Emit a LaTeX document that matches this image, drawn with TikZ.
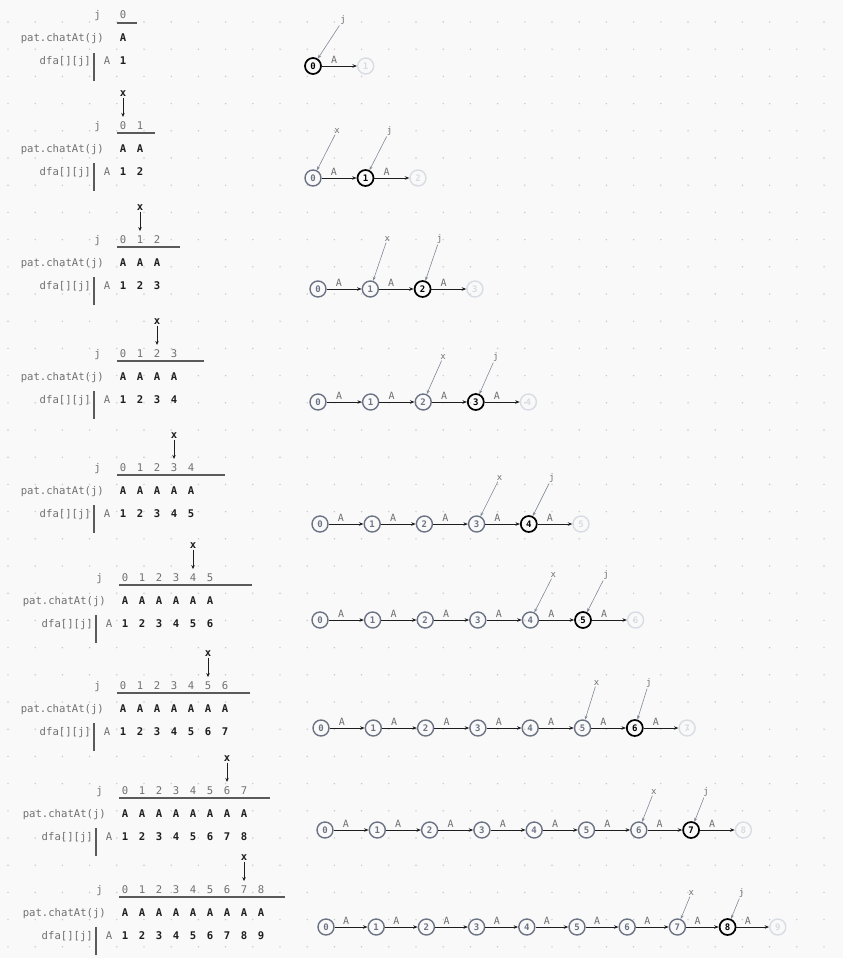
\documentclass[tikz,border=0pt]{standalone}
\usepackage{fontspec}
\setmonofont{DejaVu Sans Mono}
\usetikzlibrary{arrows.meta}

\definecolor{paper}{HTML}{F9F9F9}
\definecolor{griddot}{HTML}{C8C8C8}
\definecolor{labelgray}{HTML}{707070}
\definecolor{rulegray}{HTML}{5A5A5A}
\definecolor{stategray}{HTML}{6B7385}
\definecolor{statefade}{HTML}{D8DCE4}
\definecolor{ink}{HTML}{1E1E1E}

\tikzset{
  lbl/.style={font=\fontsize{10.6}{12}\ttfamily,text=labelgray,inner sep=0pt},
  val/.style={font=\fontsize{10.6}{12}\ttfamily\bfseries,text=ink,inner sep=0pt},
  state/.style={circle,draw=stategray,text=stategray,line width=1.4pt,minimum size=16pt,inner sep=0pt,font=\fontsize{9}{10}\ttfamily\bfseries},
  cur/.style={state,draw=black,text=black,line width=1.7pt},
  fade/.style={state,draw=statefade,text=statefade},
  edge/.style={-{Stealth[length=4.5pt,width=3.5pt]},line width=0.8pt,draw=ink},
  elbl/.style={font=\fontsize{10}{11}\ttfamily,text=labelgray,inner sep=1pt},
  ptr/.style={-{Stealth[length=4pt,width=3pt]},line width=0.6pt,draw=stategray!85},
  plbl/.style={font=\fontsize{9}{10}\ttfamily,text=labelgray,inner sep=1pt},
}

\begin{document}
\begin{tikzpicture}[x=1pt,y=-1pt]
  \useasboundingbox (0,0) rectangle (843,958);
  \fill[paper] (0,0) rectangle (843,958);
  \foreach \i in {0,...,30}
    \foreach \k in {0,...,34}
      \fill[griddot] (8+27.2*\i,22+27.2*\k) circle[radius=0.8pt];

  % tables
  \foreach[evaluate={\xr=int(\r-1)}] \r/\sx/\ty/\ue in {0/0/15/137,1/0/125/155,2/0/239/180,3/0/353/204,4/0/467/225,5/2/577/252,6/0/685/250,7/2/790/270,8/2/889/285} {
    \node[lbl,anchor=base east] (j\r) at (101+\sx,\ty+4) {j};
    \node[lbl,anchor=base east] (p\r) at (104+\sx,\ty+27) {pat.chatAt(j)};
    \node[lbl,anchor=base east] (d\r) at (91+\sx,\ty+50) {dfa[][j]};
    \node[lbl,anchor=base] (a\r) at (107+\sx,\ty+50) {A};
    \draw[rulegray,line width=1.2pt] (94+\sx,\ty+38) -- (94+\sx,\ty+66);
    \draw[rulegray,line width=1.2pt] (117+\sx,\ty+8) -- (\ue,\ty+8);
    \foreach[evaluate={\cx=123+\sx+17*\i; \v=int(\i+1)}] \i in {0,...,\r} {
      \node[lbl,anchor=base] (c\r-\i) at (\cx,\ty+4) {\i};
      \node[val,anchor=base] (pa\r-\i) at (\cx,\ty+27) {A};
      \node[val,anchor=base] (df\r-\i) at (\cx,\ty+50) {\v};
    }
    \ifnum\r>0
      \node[val,anchor=base] (x\r) at (123+\sx+17*\xr,\ty-29) {x};
      \draw[-{Stealth[length=4pt,width=3.5pt]},line width=0.8pt,ink,shorten <=1.5pt,shorten >=4pt] (x\r) -- (c\r-\xr.north);
    \fi
  }

  % automata
  \foreach[evaluate={\xr=int(\r-1); \nn=int(\r+1)}] \r/\bx/\d/\sy/\lx/\ly in {0/313/52.7/66/30/46,1/313/52.5/178/24/47,2/318/52.3/289/17/50,3/318/52.6/402/20/45,4/320/52.2/524/23/46,5/320/52.6/620/23/45,6/321/52.3/728/14/45,7/325/52.3/830/15/38,8/326/50.2/927/14/34} {
    \foreach \i in {0,...,\nn} {
      \ifnum\i=\r \def\sty{cur}\else\ifnum\i>\r \def\sty{fade}\else\def\sty{state}\fi\fi
      \node[\sty] (s\r-\i) at (\bx+\d*\i,\sy) {\i};
    }
    \foreach[evaluate={\n=int(\i+1)}] \i in {0,...,\r}
      \draw[edge] (s\r-\i) -- node[elbl,pos=0.35,above=1.5pt] {A} (s\r-\n);
    \node[plbl] (pj\r) at (\bx+\d*\r+\lx,\sy-\ly) {j};
    \draw[ptr] (pj\r) -- (s\r-\r);
    \ifnum\r>0
      \node[plbl] (px\r) at (\bx+\d*\xr+\lx,\sy-\ly) {x};
      \draw[ptr] (px\r) -- (s\r-\xr);
    \fi
  }
\end{tikzpicture}
\end{document}
